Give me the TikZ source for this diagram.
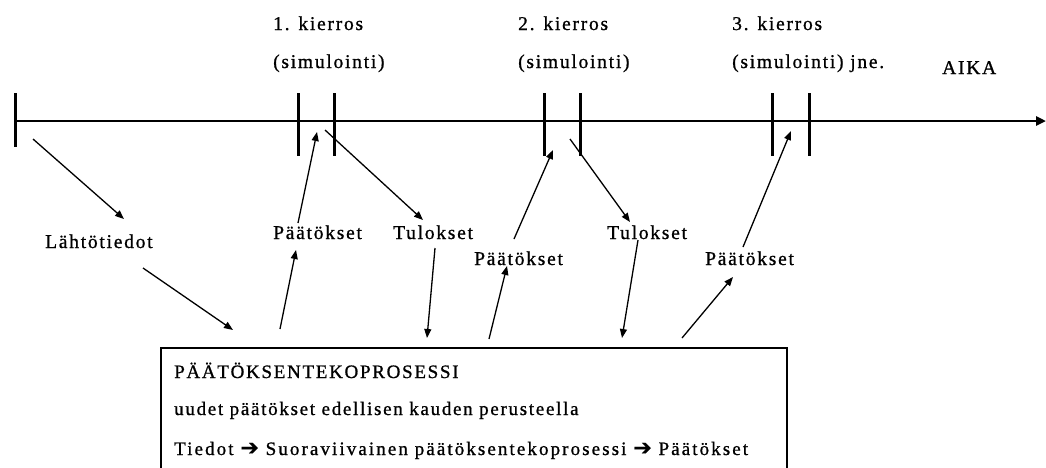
\documentclass[tikz,border=0pt]{standalone}
\usepackage{fontspec}
\setmainfont{Liberation Serif}[LetterSpace=9,FakeBold=0.9]
\newfontfamily\arrowfont{DejaVu Sans}[FakeBold=0.6]
\usetikzlibrary{arrows.meta}
\newcommand{\heavyarrow}{{\arrowfont\fontsize{22}{22}\selectfont ➔}}
\begin{document}
\begin{tikzpicture}[x=1pt,y=-1pt,
  lbl/.style={anchor=base west,inner sep=0pt,font=\fontsize{19.5}{22}\selectfont},
  boxtxt/.style={anchor=base west,inner sep=0pt,font=\fontsize{19}{22}\selectfont},
  axis/.style={line width=2.8pt,-{Triangle[length=10pt,width=9pt]}},
  tick/.style={line width=3pt},
  conn/.style={line width=1.3pt,-{Triangle[length=9pt,width=7pt]}},
  procbox/.style={line width=2.8pt}]
\useasboundingbox (0,0) rectangle (1046,467);

% time axis with its round markers
\coordinate (t0) at (15,121);
\coordinate (tend) at (1046,121);
\draw[axis] (t0) -- (tend);
\foreach \n/\x/\b in {t0/15/147, r1a/298/156, r1b/334/156, r2a/544/156, r2b/580/156, r3a/772/156, r3b/809/156}
  \draw[tick] (\x,93) coordinate (\n top) -- (\x,\b) coordinate (\n bot);

% round captions
\node[lbl] (k1) at (273,30) {1. kierros};
\node[lbl] (s1) at (273,68) {(simulointi)};
\node[lbl] (k2) at (518,30) {2. kierros};
\node[lbl] (s2) at (518,68) {(simulointi)};
\node[lbl] (k3) at (732,30) {3. kierros};
\node[lbl] (s3) at (732,68) {(simulointi) jne.};
\node[lbl] (aika) at (942,74) {AIKA};

% flow labels
\node[lbl] (lt) at (45,248) {Lähtötiedot};
\node[lbl] (p1) at (273,239) {Päätökset};
\node[lbl] (tu1) at (393,239) {Tulokset};
\node[lbl] (p2) at (474,265) {Päätökset};
\node[lbl] (tu2) at (607,239) {Tulokset};
\node[lbl] (p3) at (705,265) {Päätökset};

% decision process box (runs off the lower edge)
\coordinate (boxSW) at (161,470);
\coordinate (boxNW) at (161,348);
\coordinate (boxNE) at (787,348);
\coordinate (boxSE) at (787,470);
\draw[procbox] (boxSW) -- (boxNW) -- (boxNE) -- (boxSE);
\node[boxtxt] (b1) at (174,378) {PÄÄTÖKSENTEKOPROSESSI};
\node[boxtxt] (b2) at (174,415) {uudet päätökset edellisen kauden perusteella};
\node[boxtxt] (b3) at (174,455) {\addfontfeature{LetterSpace=11}Tiedot \heavyarrow{} Suoraviivainen päätöksentekoprosessi \heavyarrow{} Päätökset};

% connector end points
\coordinate (c1a) at (33,139);   \coordinate (c1b) at (124,219);
\coordinate (c2a) at (143,268);  \coordinate (c2b) at (233,330);
\coordinate (c3a) at (280,329);  \coordinate (c3b) at (296,250);
\coordinate (c4a) at (298,223);  \coordinate (c4b) at (317,132);
\coordinate (c5a) at (325,130);  \coordinate (c5b) at (423,220);
\coordinate (c6a) at (435,248);  \coordinate (c6b) at (427,338);
\coordinate (c7a) at (489,339);  \coordinate (c7b) at (507,266);
\coordinate (c8a) at (514,239);  \coordinate (c8b) at (553,150);
\coordinate (c9a) at (570,139);  \coordinate (c9b) at (630,222);
\coordinate (c10a) at (638,240); \coordinate (c10b) at (622,338);
\coordinate (c11a) at (682,338); \coordinate (c11b) at (733,277);
\coordinate (c12a) at (743,247); \coordinate (c12b) at (791,131);

\foreach \i in {1,...,12}
  \draw[conn] (c\i a) -- (c\i b);
\end{tikzpicture}
\end{document}
